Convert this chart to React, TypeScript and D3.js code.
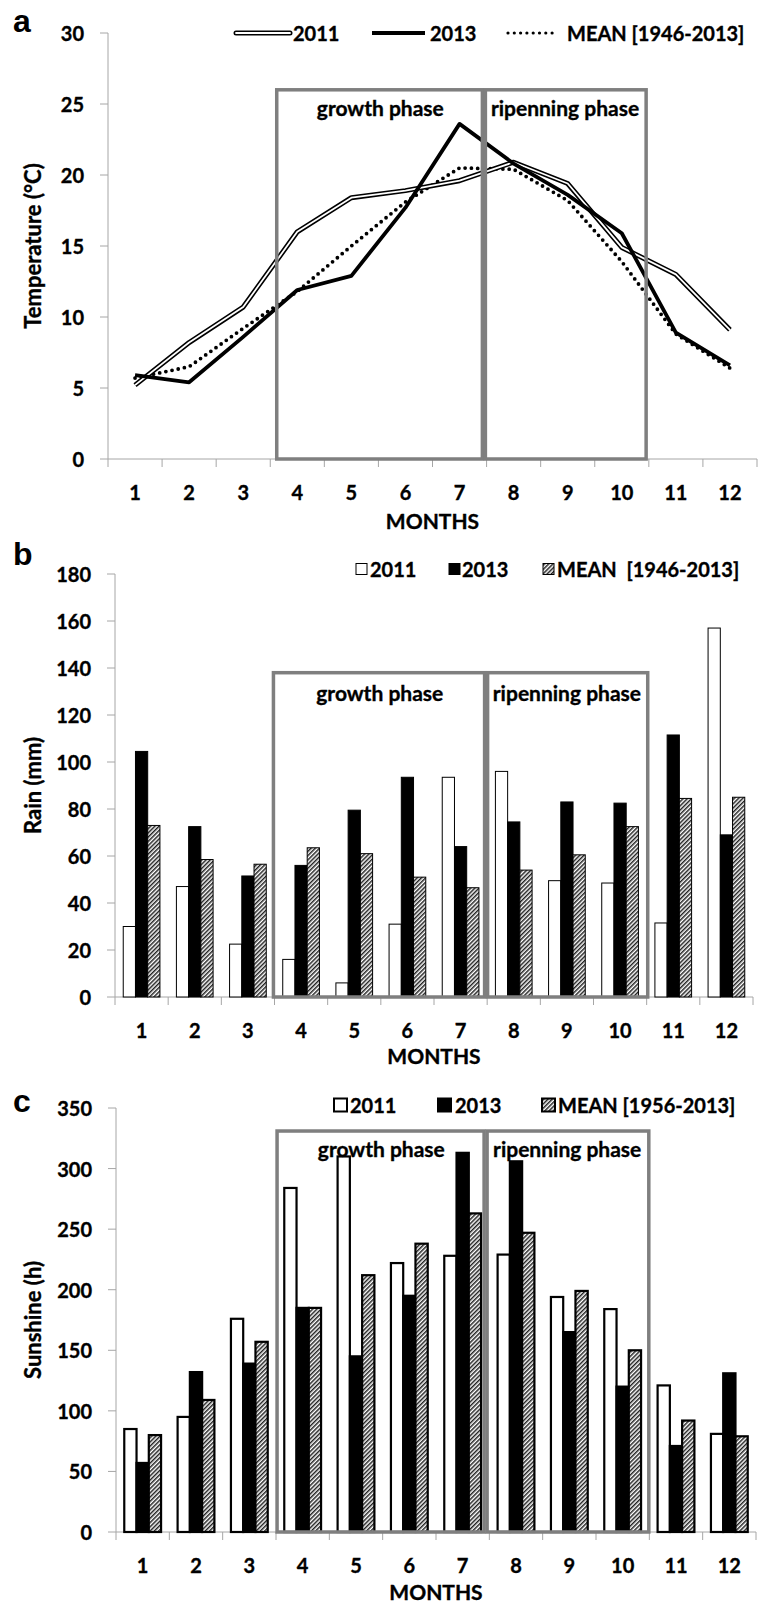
import React from "react";
import * as d3 from "d3";

// months on the x axis
const months = ["1", "2", "3", "4", "5", "6", "7", "8", "9", "10", "11", "12"];

// (a) temperature, °C
const temp2011 = [5.2, 8.2, 10.7, 16.0, 18.4, 18.9, 19.6, 20.9, 19.4, 14.9, 13.0, 9.1];
const temp2013 = [5.9, 5.4, 8.6, 11.9, 12.9, 17.7, 23.6, 20.8, 18.6, 15.9, 8.9, 6.6];
const tempMean = [5.7, 6.5, 9.2, 11.8, 15.0, 18.1, 20.5, 20.4, 18.2, 13.9, 8.8, 6.4];
const tempTicks = [0, 5, 10, 15, 20, 25, 30];

// (b) rain, mm
const rain2011 = [30, 47, 22.5, 16, 6, 31, 93.5, 96, 49.5, 48.5, 31.5, 157];
const rain2013 = [104.5, 72.5, 51.5, 56, 79.5, 93.5, 64, 74.5, 83, 82.5, 111.5, 69];
const rainMean = [73, 58.5, 56.5, 63.5, 61, 51, 46.5, 54, 60.5, 72.5, 84.5, 85];
const rainTicks = [0, 20, 40, 60, 80, 100, 120, 140, 160, 180];

// (c) sunshine, h
const sun2011 = [85, 95, 176, 284, 310, 222, 228, 229, 194, 184, 121, 81];
const sun2013 = [57, 132, 139, 185, 145, 195, 313, 306, 165, 120, 71, 131];
const sunMean = [80, 109, 157, 185, 212, 238, 263, 247, 199, 150, 92, 79];
const sunTicks = [0, 50, 100, 150, 200, 250, 300, 350];

const FONT = "Lato, 'Open Sans', sans-serif";
const AXIS = "#a6a6a6";
const BOX = "#7f7f7f";

type Scale = d3.ScaleLinear<number, number>;

type PanelProps = {
  x0: number;
  x1: number;
  top: number;
  bottom: number;
  max: number;
  ticks: number[];
  title: string;
  letter: string;
  letterY: number;
  monthY: number;
  monthsTitleY: number;
  edges: number[];
  boxTop: number;
  boxTextY: number;
  marks: (x: Scale, y: Scale) => React.ReactNode;
  legend: React.ReactNode;
};

const Panel = (p: PanelProps) => {
  const x = d3.scaleLinear().domain([0.5, 12.5]).range([p.x0, p.x1]);
  const y = d3.scaleLinear().domain([0, p.max]).range([p.bottom, p.top]);
  const [l, m, r] = p.edges;
  const bt = y(p.boxTop);
  return (
    <g>
      <text x={13} y={p.letterY} fontFamily="'Liberation Sans', Arial, sans-serif" fontWeight={700} fontSize={32}>
        {p.letter}
      </text>
      <line x1={p.x0} x2={p.x0} y1={p.top} y2={p.bottom} stroke={AXIS} />
      {p.ticks.map((t) => (
        <line key={t} x1={p.x0 - 8} x2={p.x0} y1={y(t)} y2={y(t)} stroke={AXIS} />
      ))}
      <line x1={p.x0} x2={p.x1} y1={p.bottom} y2={p.bottom} stroke={AXIS} />
      {d3.range(0, 13).map((i) => (
        <line key={i} x1={x(i + 0.5)} x2={x(i + 0.5)} y1={p.bottom} y2={p.bottom + 8} stroke={AXIS} />
      ))}
      {p.marks(x, y)}
      <rect x={x(l)} y={bt} width={x(m) - x(l) - 1.5} height={p.bottom - bt} fill="none" stroke={BOX} strokeWidth={3.5} />
      <rect x={x(m) + 1.5} y={bt} width={x(r) - x(m) - 1.5} height={p.bottom - bt} fill="none" stroke={BOX} strokeWidth={3.5} />
      <g fontFamily={FONT} fontWeight={700} stroke="#000" strokeWidth={0.35}>
        {p.ticks.map((t) => (
          <text key={t} x={p.x0 - 24} y={y(t)} textAnchor="end" dominantBaseline="central" fontSize={20}>
            {t}
          </text>
        ))}
        {months.map((mo, i) => (
          <text key={mo} x={x(i + 1)} y={p.monthY} textAnchor="middle" dominantBaseline="central" fontSize={20}>
            {mo}
          </text>
        ))}
        <text x={(p.x0 + p.x1) / 2} y={p.monthsTitleY} textAnchor="middle" dominantBaseline="central" fontSize={21}>
          MONTHS
        </text>
        <text
          transform={`translate(32,${(p.top + p.bottom) / 2}) rotate(-90)`}
          textAnchor="middle"
          dominantBaseline="central"
          fontSize={22}
        >
          {p.title}
        </text>
        <text x={(x(l) + x(m)) / 2} y={p.boxTextY} textAnchor="middle" dominantBaseline="central" fontSize={21}>
          growth phase
        </text>
        <text x={(x(m) + x(r)) / 2} y={p.boxTextY} textAnchor="middle" dominantBaseline="central" fontSize={21}>
          ripenning phase
        </text>
      </g>
      {p.legend}
    </g>
  );
};

const barMarks = (values: number[][], strokeW: number) => (x: Scale, y: Scale) => {
  const step = x(2) - x(1);
  const gw = step * 0.69;
  const inner = d3.scaleBand().domain(["0", "1", "2"]).range([-gw / 2, gw / 2]);
  const fills = ["#fff", "#000", "url(#hatch)"];
  return values.map((vals, s) =>
    vals.map((v, i) => (
      <rect
        key={`${s}-${i}`}
        x={x(i + 1) + (inner(String(s)) as number)}
        y={y(v)}
        width={inner.bandwidth()}
        height={y(0) - y(v)}
        fill={fills[s]}
        stroke="#000"
        strokeWidth={strokeW}
      />
    ))
  );
};

const lineMarks = (x: Scale, y: Scale) => {
  const line = d3
    .line<number>()
    .x((_, i) => x(i + 1))
    .y((d) => y(d));
  return (
    <g fill="none" strokeLinejoin="round">
      <path d={line(tempMean) ?? ""} stroke="#000" strokeWidth={3.8} strokeDasharray="0 6.3" strokeLinecap="round" />
      <path d={line(temp2011) ?? ""} stroke="#000" strokeWidth={5} />
      <path d={line(temp2011) ?? ""} stroke="#fff" strokeWidth={1.8} />
      <path d={line(temp2013) ?? ""} stroke="#000" strokeWidth={3.8} />
    </g>
  );
};

const BoxLegend = ({ y, items, size, sw }: { y: number; items: [number, number, string, string][]; size: number; sw: number }) => (
  <g fontFamily={FONT} fontWeight={700} fontSize={20}>
    {items.map(([sx, tx, fill, label]) => (
      <g key={label}>
        <rect x={sx} y={y - size / 2} width={size} height={size} fill={fill} stroke="#000" strokeWidth={sw} />
        <text x={tx} y={y} dominantBaseline="central" stroke="#000" strokeWidth={0.35} style={{ whiteSpace: "pre" }}>
          {label}
        </text>
      </g>
    ))}
  </g>
);

const App = () => {
  const legendA = (
    <g fontFamily={FONT} fontWeight={700} fontSize={20} fill="none">
      <line x1={236} x2={290} y1={33} y2={33} stroke="#000" strokeWidth={5} strokeLinecap="round" />
      <line x1={236} x2={290} y1={33} y2={33} stroke="#fff" strokeWidth={1.8} strokeLinecap="round" />
      <line x1={372} x2={425} y1={33} y2={33} stroke="#000" strokeWidth={3.8} />
      <line x1={508} x2={557} y1={33} y2={33} stroke="#000" strokeWidth={3.2} strokeDasharray="0 6.3" strokeLinecap="round" />
      <g fill="#000" stroke="#000" strokeWidth={0.35}>
        <text x={293} y={33} dominantBaseline="central">2011</text>
        <text x={430} y={33} dominantBaseline="central">2013</text>
        <text x={567} y={33} dominantBaseline="central">MEAN [1946-2013]</text>
      </g>
    </g>
  );
  return (
    <svg
      width={760}
      height={1603}
      style={{ position: "absolute", left: 0, top: 0, background: "#fff" }}
    >
      <defs>
        <pattern id="hatch" patternUnits="userSpaceOnUse" width={3} height={3} patternTransform="rotate(45)">
          <rect width={3} height={3} fill="#fff" />
          <line x1={0.75} x2={0.75} y1={0} y2={3} stroke="#222" strokeWidth={1.5} />
        </pattern>
      </defs>
      <rect width={760} height={1603} fill="#fff" />
      <Panel
        x0={108} x1={757} top={33} bottom={459} max={30} ticks={tempTicks}
        title="Temperature (°C)" letter="a" letterY={32}
        monthY={492} monthsTitleY={520}
        edges={[3.62, 7.45, 10.45]} boxTop={26} boxTextY={107}
        marks={lineMarks} legend={legendA}
      />
      <Panel
        x0={115} x1={753} top={574} bottom={997} max={180} ticks={rainTicks}
        title="Rain (mm)" letter="b" letterY={565}
        monthY={1030} monthsTitleY={1055}
        edges={[3.48, 7.48, 10.52]} boxTop={138} boxTextY={692}
        marks={barMarks([rain2011, rain2013, rainMean], 1)}
        legend={
          <BoxLegend
            y={569} size={11} sw={1}
            items={[
              [356, 370, "#fff", "2011"],
              [449, 462, "#000", "2013"],
              [543, 557, "url(#hatch)", "MEAN  [1946-2013]"],
            ]}
          />
        }
      />
      <Panel
        x0={116} x1={756} top={1108} bottom={1532} max={350} ticks={sunTicks}
        title="Sunshine (h)" letter="c" letterY={1112}
        monthY={1565} monthsTitleY={1591}
        edges={[3.52, 7.43, 10.49]} boxTop={331} boxTextY={1148}
        marks={barMarks([sun2011, sun2013, sunMean], 2.2)}
        legend={
          <BoxLegend
            y={1105} size={13} sw={2}
            items={[
              [334, 350, "#fff", "2011"],
              [438, 455, "#000", "2013"],
              [542, 558, "url(#hatch)", "MEAN [1956-2013]"],
            ]}
          />
        }
      />
    </svg>
  );
};

export default App;
